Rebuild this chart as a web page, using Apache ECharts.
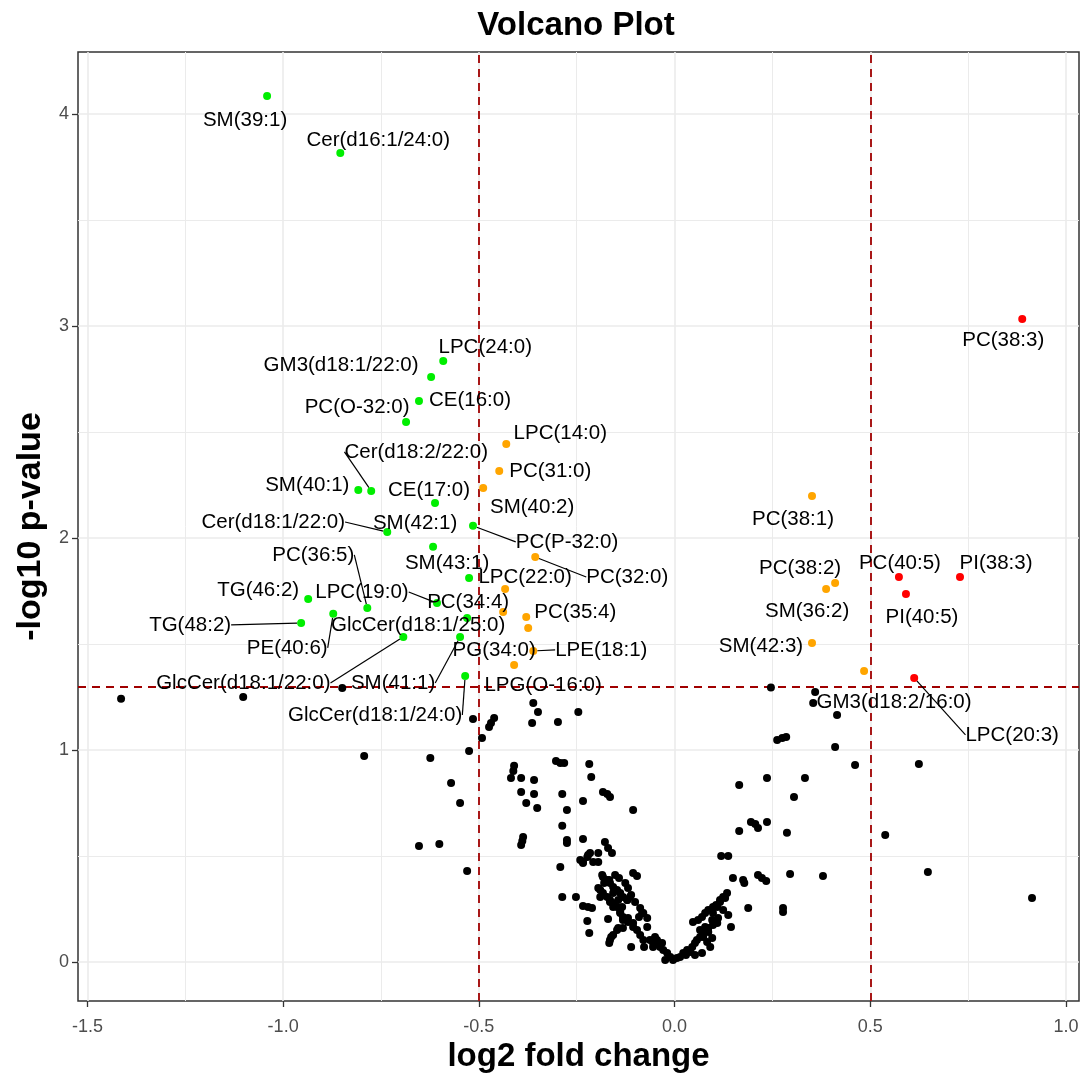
<!DOCTYPE html>
<html><head><meta charset="utf-8">
<script src="https://cdn.jsdelivr.net/npm/echarts@6/dist/echarts.min.js"></script>
<style>html,body{margin:0;padding:0;background:#fff}#c{width:1081px;height:1077px}</style>
</head><body><div id="c"></div>
<script>
// ---- axis ticks ----
const xTicks = [-1.5, -1.0, -0.5, 0.0, 0.5, 1.0];
const xMinor = [-1.25, -0.75, -0.25, 0.25, 0.75];
const yTicks = [0, 1, 2, 3, 4];
const yMinor = [0.5, 1.5, 2.5, 3.5];
const fcCut = [-0.5, 0.5];
const pCut = 1.301;

// ---- data: [log2FC, -log10 p] ----
const nonSig = [
[-1.414,1.241],[-1.102,1.250],[-0.849,1.292],[-0.793,0.972],[-0.624,0.962],[-0.571,0.844],[-0.548,0.750],[-0.653,0.547],[-0.601,0.557],[-0.530,0.429],
[-0.515,1.146],[-0.525,0.995],[-0.492,1.057],[-0.461,1.151],[-0.469,1.127],[-0.474,1.108],[-0.361,1.222],[-0.349,1.179],[-0.364,1.127],[-0.298,1.132],
[-0.246,1.179],[-0.410,0.925],[-0.412,0.901],[-0.418,0.868],[-0.392,0.868],[-0.359,0.858],[-0.392,0.802],[-0.359,0.792],[-0.379,0.750],[-0.351,0.726],
[-0.303,0.948],[-0.292,0.939],[-0.282,0.939],[-0.218,0.934],[-0.213,0.873],[-0.287,0.792],[-0.183,0.802],[-0.172,0.792],[-0.165,0.778],[-0.234,0.759],
[-0.275,0.717],[-0.106,0.717],[-0.287,0.642],[-0.387,0.590],[-0.389,0.571],[-0.392,0.552],[-0.275,0.575],[-0.275,0.561],[-0.234,0.580],[-0.178,0.566],
[-0.170,0.538],[-0.160,0.514],[-0.292,0.448],[-0.241,0.481],[-0.234,0.472],[-0.223,0.495],[-0.216,0.514],[-0.195,0.514],[-0.195,0.472],[-0.208,0.472],
[-0.287,0.307],[-0.252,0.307],[-0.234,0.264],[-0.221,0.259],[-0.211,0.255],[-0.223,0.193],[-0.218,0.137],[-0.185,0.410],[-0.180,0.373],[-0.195,0.349],
[-0.190,0.307],[-0.167,0.387],[-0.152,0.410],[-0.142,0.396],[-0.126,0.373],[-0.119,0.349],[-0.106,0.420],[-0.096,0.406],[-0.157,0.325],[-0.144,0.292],
[-0.165,0.283],[-0.157,0.259],[-0.134,0.259],[-0.121,0.292],[-0.111,0.316],[-0.170,0.203],[-0.139,0.231],[-0.132,0.198],[-0.119,0.208],[-0.106,0.184],
[-0.091,0.212],[-0.083,0.231],[-0.070,0.165],[-0.162,0.118],[-0.167,0.090],[-0.144,0.160],[-0.132,0.160],[-0.111,0.071],[-0.078,0.071],[-0.050,0.118],
[-0.045,0.104],[-0.042,0.090],[-0.037,0.071],[-0.032,0.090],[-0.055,0.071],[-0.029,0.057],[-0.019,0.042],[-0.011,0.024],[-0.004,0.009],[0.006,0.019],
[0.014,0.024],[0.022,0.042],[0.032,0.057],[0.045,0.071],[0.052,0.090],[0.057,0.104],[0.065,0.118],[0.073,0.137],[0.086,0.160],[0.096,0.198],
[0.098,0.231],[0.109,0.259],[0.116,0.292],[0.124,0.307],[0.134,0.325],[0.047,0.189],[0.060,0.198],[0.070,0.212],[0.078,0.231],[0.086,0.245],
[0.098,0.259],[0.091,0.071],[0.070,0.042],[0.052,0.033],[0.109,0.184],[0.137,0.222],[0.144,0.165],[-0.024,0.009],[0.029,0.033],[0.040,0.047],
[0.119,0.500],[0.137,0.500],[0.149,0.396],[0.175,0.387],[0.178,0.373],[0.188,0.255],[0.213,0.410],[0.223,0.396],[0.234,0.382],[0.165,0.618],
[0.165,0.835],[0.236,0.868],[0.195,0.660],[0.206,0.651],[0.213,0.632],[0.236,0.660],[0.287,0.609],[0.295,0.415],[0.277,0.255],[0.277,0.236],
[0.333,0.868],[0.305,0.778],[0.379,0.406],[0.262,1.047],[0.275,1.057],[0.285,1.061],[0.410,1.014],[0.461,0.929],[0.246,1.295],[0.359,1.274],
[0.354,1.222],[0.415,1.165],[0.624,0.934],[0.538,0.599],[0.647,0.425],[0.913,0.302],
[-0.234,0.467],[-0.221,0.505],[-0.183,0.401],[-0.172,0.387],[-0.165,0.373],[-0.157,0.354],[-0.147,0.340],[-0.139,0.325],[-0.132,0.307],[-0.121,0.292],
[-0.190,0.340],[-0.183,0.325],[-0.172,0.307],[-0.165,0.292],[-0.157,0.278],[-0.147,0.259],[-0.139,0.236],[-0.132,0.212],[-0.119,0.189],[-0.106,0.165],
[-0.096,0.151],[-0.088,0.127],[-0.080,0.104],[-0.147,0.151],[-0.157,0.127],[-0.165,0.104],[-0.114,0.307],[-0.101,0.283],[-0.088,0.255],[-0.080,0.231],
[-0.070,0.208],[-0.063,0.104],[-0.055,0.090],[0.073,0.118],[0.086,0.142],[0.098,0.175],[0.111,0.208],[0.124,0.245],[0.083,0.094],[0.096,0.113],
[0.065,0.151],[0.078,0.165],[0.106,0.269],[0.116,0.283],[0.129,0.302]
];

const downReg = [
['SM(39:1)',-1.041,4.085],['Cer(d16:1/24:0)',-0.854,3.816],['LPC(24:0)',-0.591,2.835],['GM3(d18:1/22:0)',-0.622,2.759],
['CE(16:0)',-0.653,2.646],['PC(O-32:0)',-0.686,2.547],['SM(40:1)',-0.808,2.226],['Cer(d18:2/22:0)',-0.775,2.222],
['CE(17:0)',-0.612,2.165],['Cer(d18:1/22:0)',-0.734,2.028],['PC(P-32:0)',-0.515,2.057],['SM(42:1)',-0.617,1.958],
['SM(43:1)',-0.525,1.811],['TG(46:2)',-0.936,1.712],['PC(36:5)',-0.785,1.670],['PE(40:6)',-0.872,1.642],
['LPC(19:0)',-0.607,1.693],['TG(48:2)',-0.954,1.599],['GlcCer(d18:1/22:0)',-0.693,1.533],['GlcCer(d18:1/25:0)',-0.530,1.623],
['SM(41:1)',-0.548,1.533],['GlcCer(d18:1/24:0)',-0.535,1.349]
];
const sigOnly = [
['LPC(14:0)',-0.430,2.443],['PC(31:0)',-0.448,2.316],['SM(40:2)',-0.489,2.236],['PC(32:0)',-0.356,1.910],
['LPC(22:0)',-0.433,1.759],['PC(34:4)',-0.438,1.651],['PC(35:4)',-0.379,1.627],['PG(34:0)',-0.374,1.575],
['LPE(18:1)',-0.361,1.467],['LPG(O-16:0)',-0.410,1.401],['PC(38:1)',0.351,2.198],['PC(38:2)',0.410,1.788],
['SM(36:2)',0.387,1.759],['SM(42:3)',0.351,1.505],['GM3(d18:2/16:0)',0.484,1.373]
];
const upReg = [
['PC(38:3)',0.888,3.033],['PC(40:5)',0.573,1.816],['PI(38:3)',0.729,1.816],['PI(40:5)',0.591,1.736],['LPC(20:3)',0.612,1.340]
];

// ---- label layout (pixel offsets of label centre from its point) ----
const labelPos = {
'SM(39:1)':[-22,24],'Cer(d16:1/24:0)':[38,-13],'LPC(24:0)':[42,-14],'GM3(d18:1/22:0)':[-90,-12],
'CE(16:0)':[51,-1],'PC(O-32:0)':[-49,-15],'SM(40:1)':[-51,-5],'Cer(d18:2/22:0)':[45,-39],
'CE(17:0)':[-6,-13],'Cer(d18:1/22:0)':[-114,-10],'PC(P-32:0)':[94,16],'SM(42:1)':[-18,-24],
'SM(43:1)':[-22,-15],'TG(46:2)':[-50,-9],'PC(36:5)':[-54,-53],'PE(40:6)':[-46,34],
'LPC(19:0)':[-75,-11],'TG(48:2)':[-111,2],'GlcCer(d18:1/22:0)':[-160,46],'GlcCer(d18:1/25:0)':[-49,7],
'SM(41:1)':[-67,46],'GlcCer(d18:1/24:0)':[-90,39],
'LPC(14:0)':[54,-11],'PC(31:0)':[51,0],'SM(40:2)':[49,19],'PC(32:0)':[92,20],
'LPC(22:0)':[20,-12],'PC(34:4)':[-35,-10],'PC(35:4)':[49,-5],'PG(34:0)':[-34,22],
'LPE(18:1)':[68,-1],'LPG(O-16:0)':[29,20],'PC(38:1)':[-19,23],'PC(38:2)':[-35,-15],
'SM(36:2)':[-19,22],'SM(42:3)':[-51,3],'GM3(d18:2/16:0)':[30,31],
'PC(38:3)':[-19,21],'PC(40:5)':[1,-14],'PI(38:3)':[36,-14],'PI(40:5)':[16,23],'LPC(20:3)':[98,57]
};
const withSegment = ['Cer(d18:2/22:0)','Cer(d18:1/22:0)','PC(P-32:0)','PC(36:5)','PE(40:6)','LPC(19:0)','TG(48:2)',
'GlcCer(d18:1/22:0)','SM(41:1)','GlcCer(d18:1/24:0)','PC(32:0)','LPE(18:1)','LPC(20:3)'];

const FONT = '"Liberation Sans", Arial, sans-serif';

function sigSeries(arr, color) {
  return {
    type: 'scatter', z: 4, symbol: 'circle', symbolSize: 8,
    itemStyle: { color: color, opacity: 1 },
    data: arr.map(d => ({ name: d[0], value: [d[1], d[2]], labelLine: { show: withSegment.indexOf(d[0]) >= 0 } })),
    label: { show: true, position: 'inside', formatter: '{b}', color: '#000', fontSize: 20.5, fontFamily: FONT,
             textBorderWidth: 0, textBorderColor: 'transparent', textShadowBlur: 0 },
    labelLine: { show: false, lineStyle: { color: '#000', width: 1.2 } },
    labelLayout: function (p) { const o = labelPos[arr[p.dataIndex][0]] || [0, 0]; return { dx: o[0], dy: o[1] }; },
    emphasis: { disabled: true }, animation: false
  };
}

const gridLines = [];
xTicks.forEach(v => gridLines.push({ xAxis: v, lineStyle: { width: 1.6 } }));
xMinor.forEach(v => gridLines.push({ xAxis: v, lineStyle: { width: 1 } }));
yTicks.forEach(v => gridLines.push({ yAxis: v, lineStyle: { width: 1.6 } }));
yMinor.forEach(v => gridLines.push({ yAxis: v, lineStyle: { width: 1 } }));

const cutLines = fcCut.map(v => ({ xAxis: v })).concat([{ yAxis: pCut }]);

const chart = echarts.init(document.getElementById('c'), null, { renderer: 'canvas' });
chart.setOption({
  animation: false,
  backgroundColor: '#fff',
  title: { text: 'Volcano Plot', left: 576, top: 9, padding: 0, textAlign: 'center',
           textStyle: { fontSize: 33, fontWeight: 'bold', color: '#000', fontFamily: FONT } },
  grid: { left: 78, right: 2, top: 52, bottom: 76, show: true, borderColor: '#333', borderWidth: 1.5,
          backgroundColor: '#fff', outerBoundsMode: 'none', containLabel: false },
  xAxis: {
    type: 'value', min: -1.524, max: 1.033,
    name: 'log2 fold change', nameLocation: 'middle', nameGap: 38,
    nameTextStyle: { fontSize: 33, fontWeight: 'bold', color: '#000', fontFamily: FONT },
    axisLine: { show: false, onZero: false },
    splitLine: { show: false },
    axisTick: { show: true, customValues: xTicks, length: 6, lineStyle: { color: '#333', width: 1.3 } },
    axisLabel: { customValues: xTicks, formatter: v => Number(v).toFixed(1), color: '#4d4d4d', fontSize: 18, margin: 17, fontFamily: FONT }
  },
  yAxis: {
    type: 'value', min: -0.184, max: 4.292,
    name: '-log10 p-value', nameLocation: 'middle', nameGap: 28,
    nameTextStyle: { fontSize: 34, fontWeight: 'bold', color: '#000', fontFamily: FONT },
    axisLine: { show: false, onZero: false },
    splitLine: { show: false },
    axisTick: { show: true, customValues: yTicks, length: 6, lineStyle: { color: '#333', width: 1.3 } },
    axisLabel: { customValues: yTicks, formatter: v => String(Math.round(v)), color: '#4d4d4d', fontSize: 18, margin: 9, fontFamily: FONT }
  },
  series: [
    { type: 'line', data: [], z: 1, silent: true,
      markLine: { silent: true, z: 1, symbol: ['none', 'none'], label: { show: false }, animation: false,
                  lineStyle: { color: '#ebebeb', type: 'solid' }, emphasis: { disabled: true }, data: gridLines } },
    { type: 'line', data: [], z: 2, silent: true,
      markLine: { silent: true, z: 2, symbol: ['none', 'none'], label: { show: false }, animation: false,
                  lineStyle: { color: '#a00000', type: [8, 6], width: 1.8 }, emphasis: { disabled: true }, data: cutLines } },
    { type: 'scatter', z: 3, symbol: 'circle', symbolSize: 8, itemStyle: { color: '#000', opacity: 1 },
      data: nonSig, emphasis: { disabled: true }, silent: true, animation: false },
    sigSeries(sigOnly, '#ffa500'),
    sigSeries(downReg, '#00ee00'),
    sigSeries(upReg, '#ff0000')
  ]
});
</script>
</body></html>
